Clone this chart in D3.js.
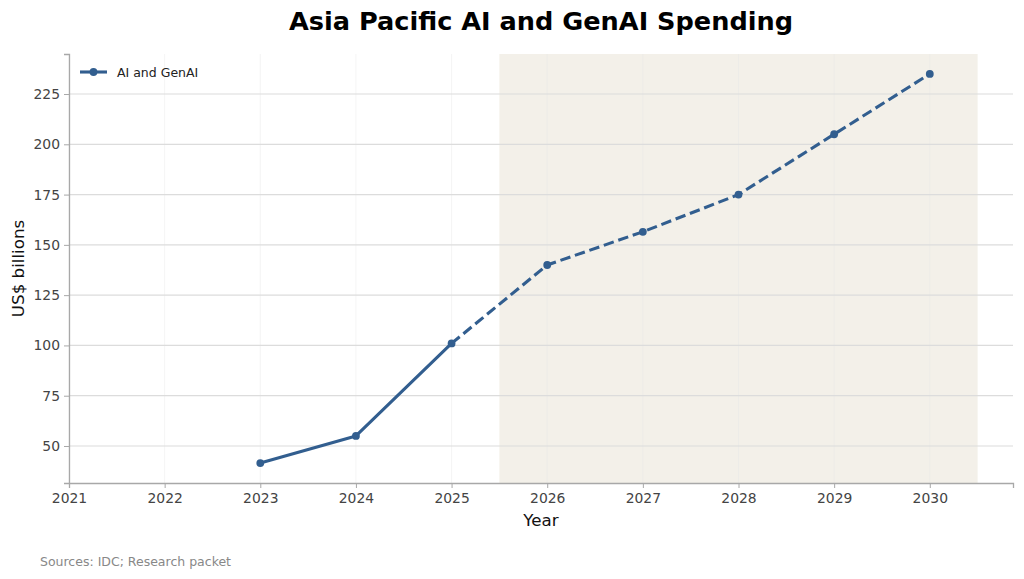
<!DOCTYPE html>
<html>
<head>
<meta charset="utf-8">
<script src="https://d3js.org/d3.v7.min.js"></script>
<style>
  body { margin: 0; background: #fff; }
  text { font-family: "DejaVu Sans", sans-serif; }
</style>
</head>
<body>
<svg id="main_canvas" width="1024" height="579"></svg>
<script>
    const WIDTH = 1024;
    const HEIGHT = 579;

    // values
    const years = [2023, 2024, 2025, 2026, 2027, 2028, 2029, 2030];
    const spending = [41.5, 55, 101, 140, 156.5, 175, 205, 235];
    const actualYears = [2023, 2024, 2025];
    const forecastYears = [2025, 2026, 2027, 2028, 2029, 2030];
    const forecastSpan = [2025.5, 2030.5];
    const xTicks = [2021, 2022, 2023, 2024, 2025, 2026, 2027, 2028, 2029, 2030];
    const yTicks = [50, 75, 100, 125, 150, 175, 200, 225];
    const xDomain = [2021, 2030.87];
    const yDomain = [31.6, 244.9];

    const margins = { left: 69, right: 11, top: 54, bottom: 96 };
    const LINE_COLOR = "#325e8f";

    const data = years.map((y, i) => ({ year: y, value: spending[i] }));
    const byYear = new Map(data.map(d => [d.year, d.value]));

    const x = d3.scaleLinear()
        .domain(xDomain)
        .range([margins.left, WIDTH - margins.right]);

    const y = d3.scaleLinear()
        .domain(yDomain)
        .range([HEIGHT - margins.bottom, margins.top]);

    const svg = d3.select("#main_canvas");

    // forecast shading
    svg.append("rect")
        .attr("x", x(forecastSpan[0]))
        .attr("y", margins.top)
        .attr("width", x(forecastSpan[1]) - x(forecastSpan[0]))
        .attr("height", y(yDomain[0]) - margins.top)
        .attr("fill", "#f3f0e9");

    // grid
    svg.append("g")
        .selectAll("line")
        .data(xTicks)
        .join("line")
        .attr("x1", d => x(d)).attr("x2", d => x(d))
        .attr("y1", margins.top).attr("y2", y(yDomain[0]))
        .attr("stroke", "#e6e6e6")
        .attr("stroke-opacity", 0.45)
        .attr("stroke-width", 1);

    svg.append("g")
        .selectAll("line")
        .data(yTicks)
        .join("line")
        .attr("x1", margins.left).attr("x2", WIDTH - margins.right)
        .attr("y1", d => y(d)).attr("y2", d => y(d))
        .attr("stroke", "#dcdcdc")
        .attr("stroke-width", 1.2);

    // axes
    const xAxis = g => g
        .attr("transform", `translate(0,${y(yDomain[0])})`)
        .call(d3.axisBottom(x).tickValues(xTicks).tickFormat(d3.format("d")).tickSize(5).tickPadding(5))
        .call(g => g.select(".domain").attr("stroke", "#a8a8a8").attr("stroke-width", 1.3))
        .call(g => g.selectAll(".tick line").attr("stroke", "#a8a8a8"))
        .call(g => g.selectAll(".tick text")
            .attr("fill", "#444")
            .style("font", "13.9px 'DejaVu Sans'"));

    const yAxis = g => g
        .attr("transform", `translate(${margins.left},0)`)
        .call(d3.axisLeft(y).tickValues(yTicks).tickSize(5).tickPadding(4))
        .call(g => g.select(".domain").attr("stroke", "#a8a8a8").attr("stroke-width", 1.3))
        .call(g => g.selectAll(".tick line").attr("stroke", "#a8a8a8"))
        .call(g => g.selectAll(".tick text")
            .attr("fill", "#444")
            .style("font", "13.9px 'DejaVu Sans'"));

    svg.append("g").call(xAxis);
    svg.append("g").call(yAxis);

    // lines
    const line = d3.line()
        .x(d => x(d))
        .y(d => y(byYear.get(d)));

    svg.append("path")
        .attr("d", line(actualYears))
        .attr("fill", "none")
        .attr("stroke", LINE_COLOR)
        .attr("stroke-width", 3.1)
        .attr("stroke-linejoin", "round");

    svg.append("path")
        .attr("d", line(forecastYears))
        .attr("fill", "none")
        .attr("stroke", LINE_COLOR)
        .attr("stroke-width", 3.1)
        .attr("stroke-dasharray", "10.5,4.8");

    svg.append("g")
        .selectAll("circle")
        .data(data)
        .join("circle")
        .attr("cx", d => x(d.year))
        .attr("cy", d => y(d.value))
        .attr("r", 3.9)
        .attr("fill", LINE_COLOR);

    // legend
    const legend = svg.append("g").attr("transform", "translate(80,72)");
    legend.append("line")
        .attr("x1", 0).attr("x2", 27).attr("y1", 0).attr("y2", 0)
        .attr("stroke", LINE_COLOR).attr("stroke-width", 3.1);
    legend.append("circle")
        .attr("cx", 13.5).attr("cy", 0).attr("r", 3.9)
        .attr("fill", LINE_COLOR);
    legend.append("text")
        .attr("x", 37).attr("y", 4.6)
        .attr("fill", "#222")
        .style("font", "12.5px 'DejaVu Sans'")
        .text("AI and GenAI");

    // titles
    svg.append("text")
        .attr("x", 541).attr("y", 30)
        .attr("text-anchor", "middle")
        .attr("fill", "#000")
        .style("font", "bold 25.6px 'DejaVu Sans'")
        .text("Asia Pacific AI and GenAI Spending");

    svg.append("text")
        .attr("x", 541).attr("y", 526)
        .attr("text-anchor", "middle")
        .attr("fill", "#111")
        .style("font", "16.7px 'DejaVu Sans'")
        .text("Year");

    svg.append("text")
        .attr("transform", `translate(24,${(margins.top + y(yDomain[0])) / 2}) rotate(-90)`)
        .attr("text-anchor", "middle")
        .attr("fill", "#111")
        .style("font", "16.7px 'DejaVu Sans'")
        .text("US$ billions");

    svg.append("text")
        .attr("x", 40).attr("y", 566)
        .attr("fill", "#888")
        .style("font", "12.5px 'DejaVu Sans'")
        .text("Sources: IDC; Research packet");
</script>
</body>
</html>
